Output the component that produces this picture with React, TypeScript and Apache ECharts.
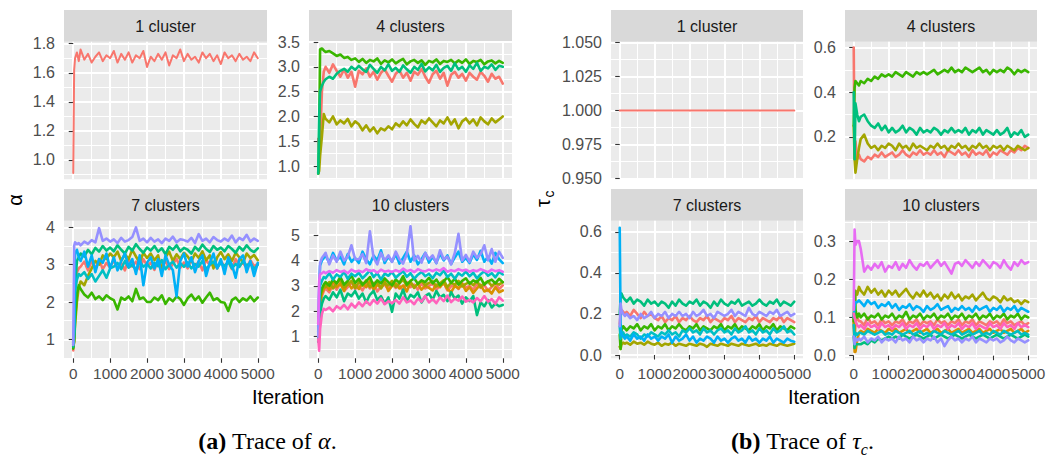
import React, { useEffect, useRef } from "react";
import * as echarts from "echarts";

// ---------- iterations (shared x values) ----------
const ITER = [0, 25, 50, 100, 150,
  200, 300, 400, 500, 600, 700, 800, 900, 1000,
  1100, 1200, 1300, 1400, 1500, 1600, 1700, 1800, 1900, 2000,
  2100, 2200, 2300, 2400, 2500, 2600, 2700, 2800, 2900, 3000,
  3100, 3200, 3300, 3400, 3500, 3600, 3700, 3800, 3900, 4000,
  4100, 4200, 4300, 4400, 4500, 4600, 4700, 4800, 4900, 5000];

// ---------- alpha traces ----------
const ALPHA_1C_C1 = [0.91, 1.62, 1.70, 1.74, 1.68,
  1.76, 1.69, 1.73, 1.67, 1.71, 1.74, 1.68, 1.72, 1.70,
  1.75, 1.67, 1.73, 1.69, 1.74, 1.67, 1.72, 1.70, 1.75, 1.64,
  1.71, 1.68, 1.73, 1.69, 1.74, 1.65, 1.72, 1.70, 1.76, 1.68,
  1.73, 1.69, 1.71, 1.67, 1.74, 1.70, 1.73, 1.68, 1.72, 1.66,
  1.74, 1.70, 1.72, 1.68, 1.73, 1.69, 1.71, 1.68, 1.74, 1.70];

const ALPHA_4C_C1 = [1.55, 1.30, 1.50, 2.50, 2.90,
  3.00, 2.88, 3.05, 2.92, 2.80, 2.95, 2.78, 2.90, 2.60,
  2.92, 2.85, 2.97, 2.80, 2.90, 2.74, 2.88, 2.95, 2.82, 2.70,
  2.86, 2.93, 2.78, 2.88, 2.72, 2.90, 2.84, 2.96, 2.80, 2.68,
  2.85, 2.92, 2.76, 2.88, 2.62, 2.84, 2.90, 2.78, 2.86, 2.72,
  2.88, 2.80, 2.74, 2.90, 2.82, 2.70, 2.86, 2.76, 2.80, 2.66];
const ALPHA_4C_C2 = [0.85, 0.90, 1.20, 1.60, 2.05,
  1.95, 1.88, 2.00, 1.84, 1.92, 1.86, 1.95, 1.80, 1.90,
  1.84, 1.72, 1.82, 1.70, 1.78, 1.66, 1.76, 1.72, 1.80, 1.74,
  1.86, 1.80, 1.90, 1.82, 1.94, 1.85, 1.78, 1.92, 1.86, 1.96,
  1.88, 1.80, 1.92, 1.86, 1.98, 1.84, 1.94, 1.76, 1.90, 1.96,
  1.86, 1.94, 1.82, 1.98, 1.90, 1.84, 1.96, 1.88, 1.94, 2.00];
const ALPHA_4C_C3 = [0.85, 1.50, 3.35, 3.37, 3.33,
  3.30, 3.32, 3.27, 3.22, 3.25, 3.18, 3.20, 3.14, 3.17,
  3.10, 3.16, 3.08, 3.14, 3.11, 3.17, 3.06, 3.13, 3.09, 3.15,
  3.07, 3.12, 3.16, 3.05, 3.11, 3.14, 3.08, 3.13, 3.04, 3.12,
  3.09, 3.15, 3.06, 3.12, 3.10, 3.14, 3.07, 3.13, 3.08, 3.15,
  3.06, 3.12, 3.10, 3.14, 3.05, 3.11, 3.13, 3.07, 3.12, 3.08];
const ALPHA_4C_C4 = [0.85, 2.00, 2.50, 2.62, 2.70,
  2.75, 2.80, 2.76, 2.86, 2.92, 2.96, 2.90, 3.00, 2.94,
  3.02, 2.95, 2.90, 3.04, 2.96, 2.88, 3.00, 2.93, 3.05, 2.92,
  2.98, 2.90, 3.03, 2.95, 2.88, 3.00, 2.94, 3.06, 2.91, 2.99,
  2.93, 3.04, 2.90, 2.98, 3.02, 2.92, 3.07, 2.95, 3.00, 2.90,
  3.03, 2.96, 3.08, 2.92, 3.00, 2.97, 3.05, 2.94, 3.02, 3.00];

const ALPHA_7C_C1 = [0.70, 1.00, 2.20, 2.80, 2.90,
  2.95, 3.08, 2.85, 3.10, 2.90, 3.15, 2.88, 3.05, 2.92,
  3.12, 2.90, 3.05, 2.85, 3.18, 2.95, 3.08, 2.88, 3.15, 2.98,
  3.05, 2.86, 3.14, 2.95, 3.10, 2.88, 3.02, 3.16, 2.92, 3.06,
  2.90, 3.12, 2.96, 3.08, 2.85, 3.14, 2.98, 3.05, 2.90, 3.10,
  2.95, 3.08, 2.88, 3.15, 2.98, 3.04, 2.92, 3.12, 2.96, 3.02];
const ALPHA_7C_C2 = [0.80, 0.95, 1.40, 2.00, 2.40,
  2.55, 2.45, 2.70, 2.90, 3.10, 3.00, 3.25, 3.15, 3.30,
  3.20, 3.35, 3.10, 3.28, 3.15, 3.40, 3.22, 3.05, 3.32, 3.18,
  3.30, 3.12, 3.25, 2.85, 3.20, 3.35, 3.10, 3.28, 3.15, 3.32,
  3.22, 3.08, 3.30, 3.18, 3.36, 3.12, 3.25, 2.90, 3.20, 3.34,
  3.15, 3.28, 3.10, 3.32, 3.20, 3.05, 3.30, 3.18, 3.26, 3.12];
const ALPHA_7C_C3 = [0.75, 0.95, 1.50, 2.20, 2.45,
  2.35, 2.20, 2.12, 2.25, 2.08, 2.15, 2.05, 2.18, 2.10,
  2.05, 1.80, 2.12, 2.06, 2.15, 2.02, 2.35, 2.08, 2.12, 2.00,
  2.00, 2.12, 2.05, 2.18, 1.95, 2.10, 2.02, 2.15, 2.08, 1.92,
  2.10, 2.20, 2.05, 2.15, 1.98, 2.12, 2.25, 2.05, 2.10, 2.00,
  1.98, 1.76, 2.05, 2.12, 2.00, 2.10, 2.04, 2.15, 2.02, 2.12];
const ALPHA_7C_C4 = [0.80, 1.10, 2.40, 3.10, 3.20,
  3.30, 3.22, 3.40, 3.28, 3.45, 3.35, 3.50, 3.38, 3.46,
  3.36, 3.52, 3.40, 3.30, 3.48, 3.38, 3.55, 3.42, 3.32, 3.46,
  3.38, 3.50, 3.35, 3.44, 3.28, 3.48, 3.40, 3.52, 3.36, 3.45,
  3.40, 3.30, 3.48, 3.38, 3.54, 3.42, 3.34, 3.50, 3.40, 3.46,
  3.36, 3.50, 3.42, 3.32, 3.48, 3.38, 3.52, 3.40, 3.34, 3.44];
const ALPHA_7C_C5 = [0.85, 1.20, 2.30, 2.60, 2.75,
  2.70, 2.80, 2.62, 2.75, 2.55, 2.70, 2.85, 2.65, 2.90,
  2.95, 3.05, 2.88, 3.10, 2.92, 3.00, 2.85, 3.08, 2.95, 3.02,
  2.90, 3.05, 2.96, 3.12, 2.88, 3.00, 3.08, 2.92, 3.04, 2.94,
  3.06, 2.90, 3.02, 2.95, 3.10, 2.88, 3.00, 3.08, 2.92, 3.05,
  2.96, 3.08, 2.90, 3.02, 2.94, 3.10, 2.98, 3.04, 2.88, 3.00];
const ALPHA_7C_C6 = [0.90, 1.40, 3.30, 3.40, 3.20,
  3.10, 3.35, 2.95, 3.25, 2.80, 3.15, 3.05, 3.30, 2.90,
  3.20, 2.85, 3.10, 3.30, 2.95, 3.15, 2.75, 3.25, 2.45, 3.05,
  3.20, 2.90, 3.15, 2.70, 3.25, 3.00, 2.85, 2.15, 3.10, 3.30,
  2.95, 3.20, 2.80, 3.10, 3.25, 2.70, 3.05, 3.30, 2.90, 3.15,
  2.75, 3.20, 3.00, 2.65, 3.15, 3.25, 2.80, 3.10, 2.70, 3.05];
const ALPHA_7C_C7 = [0.85, 3.50, 3.60, 3.55, 3.58,
  3.52, 3.62, 3.56, 3.66, 3.60, 3.98, 3.64, 3.70, 3.62,
  3.68, 3.58, 3.72, 3.62, 3.66, 3.74, 4.00, 3.64, 3.70, 3.60,
  3.72, 3.62, 3.68, 3.58, 3.70, 3.64, 3.75, 3.60, 3.68, 3.66,
  3.62, 3.72, 3.58, 3.82, 3.64, 3.70, 3.60, 3.74, 3.66, 3.62,
  3.70, 3.64, 3.78, 3.60, 3.72, 3.66, 3.80, 3.62, 3.70, 3.64];

const ALPHA_10C_C1 = [1.80, 1.20, 2.20, 2.60, 2.80,
  2.90, 2.75, 3.05, 2.85, 3.10, 2.80, 2.95, 3.15, 2.88,
  3.00, 2.82, 3.08, 2.90, 3.12, 2.78, 2.98, 3.05, 2.86, 3.10,
  2.92, 3.02, 2.80, 3.15, 2.95, 3.05, 2.85, 3.10, 2.90, 3.00,
  3.08, 2.86, 3.00, 3.12, 2.82, 2.98, 3.06, 2.88, 3.10, 2.94,
  3.00, 2.84, 3.08, 2.92, 3.04, 2.80, 2.96, 3.10, 2.88, 3.02];
const ALPHA_10C_C10 = [2.00, 1.50, 2.40, 2.70, 2.90,
  3.05, 2.85, 3.20, 2.95, 3.10, 2.80, 3.15, 2.90, 3.05,
  2.88, 3.12, 2.95, 3.20, 2.85, 3.05, 2.92, 3.18, 2.80, 3.00,
  3.10, 2.90, 3.02, 2.78, 3.15, 2.95, 3.08, 2.85, 3.00, 2.92,
  2.82, 3.05, 2.95, 3.12, 2.88, 2.75, 3.00, 2.90, 3.08, 2.80,
  2.95, 2.72, 2.90, 3.05, 2.78, 2.85, 2.70, 2.95, 2.75, 2.82];
const ALPHA_10C_C2 = [1.50, 1.80, 2.50, 2.80, 3.00,
  2.95, 3.15, 2.90, 3.10, 3.25, 2.95, 3.05, 3.20, 2.92,
  3.15, 3.00, 3.22, 2.95, 3.08, 3.18, 2.90, 3.12, 3.02, 3.20,
  2.96, 3.10, 3.25, 3.00, 3.15, 2.92, 3.08, 3.20, 3.02, 3.12,
  3.18, 2.98, 3.10, 3.22, 2.95, 3.12, 3.05, 3.20, 2.98, 3.08,
  3.15, 3.02, 3.20, 2.95, 3.10, 3.18, 3.00, 3.12, 3.05, 3.15];
const ALPHA_10C_C3 = [1.00, 1.60, 2.60, 2.90, 3.05,
  3.15, 3.00, 3.25, 3.10, 3.35, 3.05, 3.20, 3.40, 3.12,
  3.28, 3.05, 3.18, 3.35, 3.00, 3.22, 3.10, 3.30, 3.15, 3.02,
  3.25, 3.12, 3.38, 3.05, 3.20, 3.30, 3.08, 3.22, 3.15, 3.32,
  3.10, 3.25, 3.02, 3.18, 3.35, 3.12, 3.28, 3.05, 3.20, 3.30,
  3.08, 3.22, 3.15, 3.32, 3.05, 3.18, 3.25, 3.10, 3.28, 3.15];
const ALPHA_10C_C4 = [0.80, 1.20, 1.90, 2.30, 2.50,
  2.60, 2.45, 2.75, 2.55, 2.85, 2.40, 2.70, 2.60, 2.80,
  2.50, 2.70, 2.35, 2.65, 2.80, 2.45, 2.60, 2.30, 2.55, 1.98,
  2.70, 2.50, 2.85, 2.40, 2.65, 2.55, 2.75, 2.35, 2.60, 2.70,
  2.45, 2.80, 2.55, 2.65, 2.40, 2.75, 2.50, 2.62, 2.30, 2.55,
  2.40, 2.60, 1.85, 2.35, 2.20, 2.45, 2.15, 2.30, 2.20, 2.25];
const ALPHA_10C_C5 = [1.20, 2.00, 3.00, 3.20, 3.35,
  3.30, 3.50, 3.25, 3.45, 3.35, 3.55, 3.28, 3.48, 3.38,
  3.52, 3.30, 3.45, 3.60, 3.35, 3.50, 3.25, 3.48, 3.40, 3.55,
  3.32, 3.46, 3.58, 3.36, 3.50, 3.28, 3.44, 3.55, 3.38, 3.48,
  3.30, 3.52, 3.42, 3.60, 3.35, 3.48, 3.28, 3.50, 3.40, 3.56,
  3.38, 3.52, 3.30, 3.46, 3.58, 3.40, 3.50, 3.34, 3.55, 3.45];
const ALPHA_10C_C6 = [1.40, 2.80, 3.80, 4.00, 4.10,
  4.20, 3.90, 4.30, 4.00, 4.15, 3.85, 4.25, 3.95, 4.10,
  3.90, 4.35, 4.05, 3.85, 4.20, 4.00, 4.40, 3.90, 4.15, 3.95,
  4.25, 3.88, 4.10, 4.35, 3.95, 4.20, 3.85, 4.05, 4.30, 3.92,
  4.15, 3.90, 4.28, 4.00, 4.20, 3.86, 4.12, 4.35, 3.95, 4.10,
  3.90, 4.25, 4.02, 4.38, 3.95, 4.15, 3.88, 4.30, 4.05, 3.90];
const ALPHA_10C_C7 = [1.00, 3.00, 3.90, 4.10, 4.20,
  4.30, 3.85, 4.20, 3.95, 4.35, 4.00, 4.15, 4.60, 4.05,
  4.05, 4.25, 3.90, 5.15, 4.10, 3.85, 4.30, 4.00, 4.20, 3.95,
  4.35, 4.05, 3.88, 4.25, 5.35, 4.00, 4.18, 3.92, 4.30, 4.05,
  4.20, 3.90, 4.40, 4.05, 4.15, 3.85, 4.30, 5.05, 4.00, 4.22,
  3.95, 4.35, 4.10, 4.25, 4.60, 4.00, 4.45, 3.95, 4.35, 4.10];
const ALPHA_10C_C8 = [1.50, 3.20, 3.45, 3.50, 3.55,
  3.50, 3.58, 3.52, 3.62, 3.55, 3.60, 3.50, 3.64, 3.56,
  3.60, 3.54, 3.66, 3.58, 3.62, 3.52, 3.64, 3.56, 3.60, 3.55,
  3.62, 3.56, 3.68, 3.58, 3.63, 3.54, 3.66, 3.60, 3.57, 3.64,
  3.58, 3.65, 3.60, 3.70, 3.56, 3.62, 3.58, 3.66, 3.60, 3.64,
  3.56, 3.62, 3.58, 3.66, 3.60, 3.54, 3.64, 3.58, 3.62, 3.56];
const ALPHA_10C_C9 = [0.90, 0.45, 1.30, 1.90, 2.10,
  2.05, 2.15, 2.00, 2.20, 2.10, 2.25, 2.08, 2.30, 2.15,
  2.35, 2.20, 2.40, 2.25, 2.45, 2.30, 2.50, 2.28, 2.40, 2.32,
  2.45, 2.30, 2.55, 2.35, 2.42, 2.28, 2.50, 2.38, 2.60, 2.35,
  2.48, 2.32, 2.55, 2.40, 2.62, 2.36, 2.50, 2.42, 2.58, 2.38,
  2.45, 2.35, 2.52, 2.40, 2.60, 2.38, 2.48, 2.30, 2.55, 2.42];

// ---------- tau_c traces ----------
const TAU_1C_ITER = [0, 5000];
const TAU_1C_C1 = [1.0, 1.0];

const TAU_4C_C1 = [0.60, 0.10, 0.18, 0.10, 0.12,
  0.10, 0.09, 0.11, 0.10, 0.12, 0.11, 0.13, 0.11, 0.12,
  0.13, 0.11, 0.12, 0.14, 0.12, 0.11, 0.13, 0.12, 0.14, 0.12,
  0.13, 0.12, 0.14, 0.12, 0.13, 0.11, 0.14, 0.13, 0.12, 0.14,
  0.12, 0.13, 0.11, 0.14, 0.12, 0.13, 0.12, 0.14, 0.11, 0.13,
  0.12, 0.14, 0.13, 0.12, 0.14, 0.13, 0.15, 0.14, 0.16, 0.15];
const TAU_4C_C2 = [0.25, 0.10, 0.04, 0.10, 0.15,
  0.19, 0.21, 0.17, 0.15, 0.16, 0.14, 0.16, 0.15, 0.17,
  0.16, 0.14, 0.17, 0.15, 0.16, 0.14, 0.17, 0.15, 0.16, 0.15,
  0.14, 0.16, 0.15, 0.17, 0.15, 0.16, 0.14, 0.16, 0.15, 0.17,
  0.15, 0.16, 0.14, 0.16, 0.15, 0.17, 0.15, 0.16, 0.14, 0.16,
  0.15, 0.16, 0.14, 0.16, 0.15, 0.14, 0.16, 0.15, 0.14, 0.15];
const TAU_4C_C3 = [0.25, 0.42, 0.45, 0.44, 0.43,
  0.45, 0.44, 0.46, 0.45, 0.47, 0.46, 0.48, 0.47, 0.48,
  0.47, 0.49, 0.48, 0.47, 0.49, 0.48, 0.47, 0.49, 0.48, 0.49,
  0.48, 0.49, 0.50, 0.48, 0.49, 0.50, 0.49, 0.51, 0.49, 0.50,
  0.49, 0.51, 0.50, 0.49, 0.50, 0.51, 0.49, 0.50, 0.48, 0.50,
  0.49, 0.50, 0.49, 0.51, 0.50, 0.48, 0.50, 0.49, 0.50, 0.49];
const TAU_4C_C4 = [0.40, 0.10, 0.35, 0.30, 0.27,
  0.29, 0.30, 0.27, 0.25, 0.24, 0.26, 0.23, 0.25, 0.22,
  0.24, 0.22, 0.23, 0.25, 0.22, 0.24, 0.23, 0.21, 0.24, 0.22,
  0.23, 0.22, 0.24, 0.23, 0.21, 0.23, 0.22, 0.24, 0.22, 0.23,
  0.22, 0.24, 0.21, 0.23, 0.22, 0.24, 0.21, 0.23, 0.22, 0.21,
  0.23, 0.21, 0.22, 0.24, 0.20, 0.22, 0.21, 0.23, 0.20, 0.21];

const TAU_7C_C1 = [0.15, 0.20, 0.22, 0.21, 0.20,
  0.21, 0.19, 0.22, 0.20, 0.18, 0.21, 0.19, 0.20, 0.18,
  0.17, 0.19, 0.16, 0.18, 0.17, 0.19, 0.16, 0.18, 0.17, 0.19,
  0.17, 0.16, 0.18, 0.17, 0.19, 0.16, 0.18, 0.17, 0.16, 0.18,
  0.17, 0.19, 0.16, 0.18, 0.17, 0.16, 0.18, 0.17, 0.19, 0.16,
  0.18, 0.17, 0.16, 0.18, 0.17, 0.19, 0.16, 0.18, 0.17, 0.16];
const TAU_7C_C2 = [0.04, 0.03, 0.05, 0.06, 0.055,
  0.06, 0.05, 0.065, 0.055, 0.06, 0.05, 0.065, 0.055, 0.05,
  0.06, 0.045, 0.055, 0.05, 0.06, 0.045, 0.055, 0.05, 0.045, 0.055,
  0.05, 0.045, 0.055, 0.05, 0.04, 0.055, 0.05, 0.045, 0.055, 0.05,
  0.045, 0.055, 0.05, 0.045, 0.055, 0.05, 0.045, 0.05, 0.055, 0.045,
  0.05, 0.045, 0.055, 0.05, 0.045, 0.055, 0.05, 0.045, 0.05, 0.055];
const TAU_7C_C3 = [0.10, 0.03, 0.12, 0.14, 0.13,
  0.12, 0.14, 0.13, 0.15, 0.12, 0.14, 0.13, 0.15, 0.12,
  0.14, 0.13, 0.15, 0.12, 0.14, 0.13, 0.15, 0.13, 0.12, 0.14,
  0.13, 0.15, 0.12, 0.14, 0.13, 0.12, 0.14, 0.13, 0.15, 0.12,
  0.14, 0.13, 0.15, 0.12, 0.14, 0.13, 0.12, 0.14, 0.13, 0.15,
  0.12, 0.14, 0.13, 0.15, 0.12, 0.14, 0.13, 0.12, 0.14, 0.13];
const TAU_7C_C4 = [0.20, 0.28, 0.30, 0.28, 0.27,
  0.26, 0.28, 0.25, 0.27, 0.26, 0.24, 0.27, 0.25, 0.26,
  0.24, 0.26, 0.25, 0.23, 0.26, 0.24, 0.27, 0.25, 0.24, 0.26,
  0.25, 0.27, 0.24, 0.26, 0.25, 0.23, 0.26, 0.24, 0.27, 0.25,
  0.24, 0.26, 0.25, 0.27, 0.24, 0.25, 0.26, 0.24, 0.25, 0.27,
  0.25, 0.24, 0.26, 0.25, 0.27, 0.24, 0.26, 0.25, 0.24, 0.26];
const TAU_7C_C5 = [0.14, 0.08, 0.10, 0.11, 0.09,
  0.10, 0.09, 0.11, 0.10, 0.08, 0.10, 0.09, 0.11, 0.10,
  0.09, 0.11, 0.10, 0.12, 0.10, 0.11, 0.09, 0.12, 0.11, 0.13,
  0.11, 0.12, 0.10, 0.13, 0.11, 0.12, 0.10, 0.12, 0.13, 0.11,
  0.12, 0.10, 0.13, 0.11, 0.12, 0.14, 0.11, 0.12, 0.10, 0.13,
  0.11, 0.12, 0.10, 0.13, 0.11, 0.12, 0.14, 0.11, 0.12, 0.10];
const TAU_7C_C6 = [0.62, 0.15, 0.10, 0.09, 0.08,
  0.09, 0.07, 0.10, 0.08, 0.09, 0.07, 0.10, 0.08, 0.09,
  0.07, 0.09, 0.08, 0.10, 0.06, 0.09, 0.07, 0.08, 0.10, 0.07,
  0.09, 0.06, 0.08, 0.07, 0.09, 0.08, 0.06, 0.09, 0.07, 0.08,
  0.06, 0.08, 0.09, 0.07, 0.08, 0.06, 0.09, 0.07, 0.08, 0.06,
  0.08, 0.07, 0.09, 0.06, 0.08, 0.07, 0.06, 0.08, 0.07, 0.065];
const TAU_7C_C7 = [0.14, 0.25, 0.22, 0.20, 0.19,
  0.20, 0.18, 0.19, 0.17, 0.20, 0.18, 0.19, 0.21, 0.18,
  0.20, 0.19, 0.21, 0.18, 0.20, 0.19, 0.21, 0.19, 0.20, 0.18,
  0.21, 0.19, 0.20, 0.22, 0.19, 0.20, 0.18, 0.21, 0.20, 0.19,
  0.20, 0.22, 0.19, 0.21, 0.20, 0.19, 0.23, 0.20, 0.19, 0.21,
  0.20, 0.19, 0.21, 0.20, 0.22, 0.19, 0.20, 0.21, 0.19, 0.20];

const TAU_10C_C1 = [0.11, 0.02, 0.09, 0.10, 0.09,
  0.09, 0.08, 0.10, 0.085, 0.09, 0.08, 0.095, 0.085, 0.09,
  0.08, 0.09, 0.085, 0.095, 0.08, 0.09, 0.085, 0.095, 0.08, 0.09,
  0.085, 0.09, 0.08, 0.095, 0.085, 0.09, 0.08, 0.09, 0.085, 0.095,
  0.08, 0.09, 0.085, 0.095, 0.08, 0.09, 0.085, 0.08, 0.09, 0.085,
  0.09, 0.08, 0.095, 0.085, 0.09, 0.08, 0.085, 0.09, 0.08, 0.085];
const TAU_10C_C10 = [0.10, 0.01, 0.01, 0.04, 0.06,
  0.065, 0.06, 0.07, 0.065, 0.06, 0.07, 0.065, 0.06, 0.07,
  0.065, 0.07, 0.06, 0.065, 0.07, 0.06, 0.065, 0.07, 0.06, 0.065,
  0.07, 0.06, 0.065, 0.07, 0.06, 0.065, 0.07, 0.06, 0.065, 0.07,
  0.06, 0.065, 0.07, 0.06, 0.065, 0.07, 0.06, 0.065, 0.07, 0.06,
  0.065, 0.07, 0.06, 0.065, 0.07, 0.06, 0.065, 0.07, 0.06, 0.065];
const TAU_10C_C2 = [0.10, 0.05, 0.17, 0.16, 0.18,
  0.17, 0.16, 0.18, 0.165, 0.175, 0.16, 0.17, 0.155, 0.17,
  0.16, 0.17, 0.155, 0.165, 0.175, 0.16, 0.15, 0.165, 0.155, 0.17,
  0.155, 0.165, 0.15, 0.16, 0.145, 0.16, 0.15, 0.165, 0.15, 0.16,
  0.145, 0.155, 0.15, 0.16, 0.145, 0.155, 0.165, 0.15, 0.145, 0.155,
  0.15, 0.14, 0.155, 0.145, 0.15, 0.14, 0.145, 0.135, 0.145, 0.14];
const TAU_10C_C3 = [0.09, 0.17, 0.12, 0.10, 0.11,
  0.10, 0.11, 0.095, 0.105, 0.10, 0.11, 0.095, 0.105, 0.10,
  0.11, 0.095, 0.105, 0.10, 0.115, 0.095, 0.105, 0.10, 0.11, 0.095,
  0.105, 0.10, 0.11, 0.095, 0.105, 0.10, 0.11, 0.095, 0.105, 0.10,
  0.11, 0.095, 0.105, 0.10, 0.11, 0.095, 0.105, 0.10, 0.11, 0.095,
  0.105, 0.10, 0.11, 0.095, 0.105, 0.10, 0.11, 0.095, 0.105, 0.10];
const TAU_10C_C4 = [0.05, 0.02, 0.03, 0.03, 0.03,
  0.03, 0.035, 0.03, 0.04, 0.035, 0.045, 0.04, 0.045, 0.05,
  0.045, 0.05, 0.045, 0.055, 0.05, 0.045, 0.05, 0.055, 0.05, 0.045,
  0.05, 0.055, 0.045, 0.05, 0.055, 0.05, 0.045, 0.05, 0.055, 0.05,
  0.045, 0.05, 0.055, 0.05, 0.045, 0.05, 0.055, 0.05, 0.045, 0.05,
  0.055, 0.05, 0.045, 0.05, 0.055, 0.05, 0.045, 0.05, 0.055, 0.05];
const TAU_10C_C5 = [0.08, 0.04, 0.06, 0.055, 0.06,
  0.06, 0.055, 0.065, 0.06, 0.055, 0.06, 0.065, 0.055, 0.06,
  0.055, 0.065, 0.06, 0.055, 0.06, 0.065, 0.055, 0.06, 0.065, 0.055,
  0.06, 0.055, 0.065, 0.06, 0.055, 0.065, 0.06, 0.055, 0.06, 0.065,
  0.055, 0.06, 0.065, 0.055, 0.06, 0.065, 0.055, 0.06, 0.055, 0.065,
  0.06, 0.055, 0.065, 0.06, 0.055, 0.06, 0.065, 0.055, 0.06, 0.055];
const TAU_10C_C6 = [0.10, 0.13, 0.14, 0.14, 0.145,
  0.14, 0.13, 0.145, 0.135, 0.14, 0.125, 0.135, 0.13, 0.14,
  0.125, 0.135, 0.12, 0.13, 0.125, 0.135, 0.12, 0.13, 0.125, 0.115,
  0.13, 0.12, 0.125, 0.135, 0.12, 0.125, 0.13, 0.115, 0.125, 0.12,
  0.13, 0.12, 0.125, 0.115, 0.13, 0.12, 0.125, 0.13, 0.115, 0.125,
  0.12, 0.13, 0.115, 0.125, 0.12, 0.13, 0.115, 0.125, 0.12, 0.115];
const TAU_10C_C7 = [0.05, 0.03, 0.045, 0.04, 0.045,
  0.04, 0.05, 0.035, 0.045, 0.04, 0.05, 0.035, 0.045, 0.04,
  0.045, 0.035, 0.05, 0.04, 0.045, 0.035, 0.05, 0.04, 0.045, 0.035,
  0.045, 0.04, 0.05, 0.035, 0.045, 0.025, 0.04, 0.05, 0.04, 0.045,
  0.035, 0.045, 0.04, 0.05, 0.035, 0.045, 0.04, 0.035, 0.045, 0.04,
  0.045, 0.035, 0.04, 0.05, 0.04, 0.035, 0.045, 0.04, 0.035, 0.04];
const TAU_10C_C8 = [0.12, 0.33, 0.29, 0.30, 0.30,
  0.28, 0.22, 0.235, 0.225, 0.24, 0.23, 0.245, 0.22, 0.235,
  0.23, 0.245, 0.225, 0.24, 0.23, 0.25, 0.235, 0.225, 0.24, 0.235,
  0.245, 0.23, 0.24, 0.25, 0.235, 0.245, 0.23, 0.215, 0.24, 0.245,
  0.235, 0.25, 0.24, 0.23, 0.245, 0.235, 0.25, 0.24, 0.23, 0.245,
  0.24, 0.23, 0.25, 0.235, 0.225, 0.245, 0.235, 0.25, 0.24, 0.245];
const TAU_10C_C9 = [0.11, 0.10, 0.09, 0.08, 0.075,
  0.08, 0.07, 0.085, 0.075, 0.08, 0.07, 0.085, 0.075, 0.08,
  0.07, 0.08, 0.075, 0.085, 0.07, 0.08, 0.075, 0.085, 0.07, 0.08,
  0.075, 0.085, 0.07, 0.08, 0.075, 0.085, 0.07, 0.08, 0.075, 0.085,
  0.07, 0.08, 0.075, 0.085, 0.07, 0.08, 0.075, 0.07, 0.085, 0.075,
  0.08, 0.07, 0.085, 0.075, 0.08, 0.07, 0.085, 0.075, 0.08, 0.075];

// ---------- tick values ----------
const X_MAJOR = [0, 1000, 2000, 3000, 4000, 5000];
const X_MINOR = [500, 1500, 2500, 3500, 4500];
const A1_MAJOR = [1.0, 1.2, 1.4, 1.6, 1.8];
const A1_MINOR = [0.9, 1.1, 1.3, 1.5, 1.7];
const A4_MAJOR = [1.0, 1.5, 2.0, 2.5, 3.0, 3.5];
const A4_MINOR = [0.75, 1.25, 1.75, 2.25, 2.75, 3.25];
const A7_MAJOR = [1, 2, 3, 4];
const A7_MINOR = [0.5, 1.5, 2.5, 3.5];
const A10_MAJOR = [1, 2, 3, 4, 5];
const A10_MINOR = [0.5, 1.5, 2.5, 3.5, 4.5, 5.5];
const T1_MAJOR = [0.95, 0.975, 1.0, 1.025, 1.05];
const T1_MINOR = [0.9625, 0.9875, 1.0125, 1.0375];
const T4_MAJOR = [0.2, 0.4, 0.6];
const T4_MINOR = [0.1, 0.3, 0.5];
const T7_MAJOR = [0.0, 0.2, 0.4, 0.6];
const T7_MINOR = [0.1, 0.3, 0.5];
const T10_MAJOR = [0.0, 0.1, 0.2, 0.3];
const T10_MINOR = [0.05, 0.15, 0.25, 0.35];

// ggplot hue palette, levels ordered "1","10","2",...,"9"
const HUE = {
  c1: "#F8766D", c10: "#D89000", c2: "#A3A500", c3: "#39B600", c4: "#00BF7D",
  c5: "#00BFC4", c6: "#00B0F6", c7: "#9590FF", c8: "#E76BF3", c9: "#FF62BC",
};

const SANS = "'Liberation Sans', Arial, Helvetica, sans-serif";
const SERIF = "'Liberation Serif', 'Times New Roman', serif";

const TOP_Y = 41.8;
const BOT_Y = 220.8;
const PH = 137.5;
const STRIP_H = 31.8;

type Trace = { c: string; y: number[]; x?: number[]; w?: number };
type Panel = {
  title: string; x: number; y: number; w: number; h: number;
  yMin: number; yMax: number; major: number[]; minor: number[]; dec: number;
  bottom: boolean; traces: Trace[];
};

const PANELS: Panel[] = [
  { title: "1 cluster", x: 64, y: TOP_Y, w: 203, h: PH, yMin: 0.867, yMax: 1.813, major: A1_MAJOR, minor: A1_MINOR, dec: 1, bottom: false,
    traces: [{ c: HUE.c1, y: ALPHA_1C_C1, w: 2 }] },
  { title: "4 clusters", x: 309, y: TOP_Y, w: 203, h: PH, yMin: 0.732, yMax: 3.505, major: A4_MAJOR, minor: A4_MINOR, dec: 1, bottom: false,
    traces: [{ c: HUE.c1, y: ALPHA_4C_C1 }, { c: HUE.c2, y: ALPHA_4C_C2 }, { c: HUE.c3, y: ALPHA_4C_C3 }, { c: HUE.c4, y: ALPHA_4C_C4 }] },
  { title: "7 clusters", x: 64, y: BOT_Y, w: 203, h: PH, yMin: 0.491, yMax: 4.177, major: A7_MAJOR, minor: A7_MINOR, dec: 0, bottom: true,
    traces: [{ c: HUE.c1, y: ALPHA_7C_C1 }, { c: HUE.c2, y: ALPHA_7C_C2 }, { c: HUE.c3, y: ALPHA_7C_C3 }, { c: HUE.c4, y: ALPHA_7C_C4 },
      { c: HUE.c5, y: ALPHA_7C_C5 }, { c: HUE.c6, y: ALPHA_7C_C6 }, { c: HUE.c7, y: ALPHA_7C_C7 }] },
  { title: "10 clusters", x: 309, y: BOT_Y, w: 203, h: PH, yMin: 0.15, yMax: 5.563, major: A10_MAJOR, minor: A10_MINOR, dec: 0, bottom: true,
    traces: [{ c: HUE.c1, y: ALPHA_10C_C1 }, { c: HUE.c10, y: ALPHA_10C_C10 }, { c: HUE.c2, y: ALPHA_10C_C2 }, { c: HUE.c3, y: ALPHA_10C_C3 },
      { c: HUE.c4, y: ALPHA_10C_C4 }, { c: HUE.c5, y: ALPHA_10C_C5 }, { c: HUE.c6, y: ALPHA_10C_C6 }, { c: HUE.c7, y: ALPHA_10C_C7 },
      { c: HUE.c8, y: ALPHA_10C_C8 }, { c: HUE.c9, y: ALPHA_10C_C9 }] },
  { title: "1 cluster", x: 611, y: TOP_Y, w: 192, h: PH, yMin: 0.9495, yMax: 1.0505, major: T1_MAJOR, minor: T1_MINOR, dec: 3, bottom: false,
    traces: [{ c: HUE.c1, y: TAU_1C_C1, x: TAU_1C_ITER, w: 2 }] },
  { title: "4 clusters", x: 845, y: TOP_Y, w: 192, h: PH, yMin: 0.0099, yMax: 0.6256, major: T4_MAJOR, minor: T4_MINOR, dec: 1, bottom: false,
    traces: [{ c: HUE.c1, y: TAU_4C_C1 }, { c: HUE.c2, y: TAU_4C_C2 }, { c: HUE.c3, y: TAU_4C_C3 }, { c: HUE.c4, y: TAU_4C_C4 }] },
  { title: "7 clusters", x: 611, y: BOT_Y, w: 192, h: PH, yMin: -0.016, yMax: 0.6535, major: T7_MAJOR, minor: T7_MINOR, dec: 1, bottom: true,
    traces: [{ c: HUE.c1, y: TAU_7C_C1 }, { c: HUE.c2, y: TAU_7C_C2 }, { c: HUE.c3, y: TAU_7C_C3 }, { c: HUE.c4, y: TAU_7C_C4 },
      { c: HUE.c5, y: TAU_7C_C5 }, { c: HUE.c6, y: TAU_7C_C6 }, { c: HUE.c7, y: TAU_7C_C7 }] },
  { title: "10 clusters", x: 845, y: BOT_Y, w: 192, h: PH, yMin: -0.0068, yMax: 0.353, major: T10_MAJOR, minor: T10_MINOR, dec: 1, bottom: true,
    traces: [{ c: HUE.c1, y: TAU_10C_C1 }, { c: HUE.c10, y: TAU_10C_C10 }, { c: HUE.c2, y: TAU_10C_C2 }, { c: HUE.c3, y: TAU_10C_C3 },
      { c: HUE.c4, y: TAU_10C_C4 }, { c: HUE.c5, y: TAU_10C_C5 }, { c: HUE.c6, y: TAU_10C_C6 }, { c: HUE.c7, y: TAU_10C_C7 },
      { c: HUE.c8, y: TAU_10C_C8 }, { c: HUE.c9, y: TAU_10C_C9 }] },
];

function buildOption() {
  const grids: any[] = [];
  const xAxes: any[] = [];
  const yAxes: any[] = [];
  const series: any[] = [];
  const graphics: any[] = [];

  PANELS.forEach((p, i) => {
    grids.push({
      left: p.x, top: p.y, width: p.w, height: p.h,
      show: true, backgroundColor: "#EBEBEB", borderWidth: 0, borderColor: "transparent",
      containLabel: false, outerBoundsMode: "none",
    });
    // main x axis (major grid, ticks, labels)
    xAxes.push({
      type: "value", gridIndex: i, min: -250, max: 5250, position: "bottom",
      axisLine: { show: false },
      axisTick: { show: p.bottom, length: 4.5, customValues: X_MAJOR, lineStyle: { color: "#333333", width: 1.1 } },
      axisLabel: {
        show: p.bottom, customValues: X_MAJOR, color: "#4D4D4D", fontSize: 15.3, fontFamily: SANS, margin: 8,
        formatter: (v: number) => String(v), hideOverlap: false,
      },
      splitLine: { show: true, lineStyle: { color: "#FFFFFF", width: 2 } },
    });
    // minor x axis (minor grid only)
    xAxes.push({
      type: "value", gridIndex: i, min: -250, max: 5250, position: "top",
      axisLine: { show: false },
      axisTick: { show: false, customValues: X_MINOR },
      axisLabel: { show: false, customValues: X_MINOR },
      splitLine: { show: true, lineStyle: { color: "#FFFFFF", width: 1 } },
    });
    yAxes.push({
      type: "value", gridIndex: i, min: p.yMin, max: p.yMax, position: "left",
      axisLine: { show: false },
      axisTick: { show: true, length: 4.5, customValues: p.major, lineStyle: { color: "#333333", width: 1.1 } },
      axisLabel: {
        show: true, customValues: p.major, color: "#4D4D4D", fontSize: 16, fontFamily: SANS, margin: 9,
        formatter: (v: number) => v.toFixed(p.dec), hideOverlap: false,
      },
      splitLine: { show: true, lineStyle: { color: "#FFFFFF", width: 2 } },
    });
    yAxes.push({
      type: "value", gridIndex: i, min: p.yMin, max: p.yMax, position: "right",
      axisLine: { show: false },
      axisTick: { show: false, customValues: p.minor },
      axisLabel: { show: false, customValues: p.minor },
      splitLine: { show: true, lineStyle: { color: "#FFFFFF", width: 1 } },
    });

    p.traces.forEach((t) => {
      const xs = t.x || ITER;
      series.push({
        type: "line", xAxisIndex: 2 * i, yAxisIndex: 2 * i,
        data: xs.map((x, k) => [x, t.y[k]]),
        showSymbol: false, symbol: "none", silent: true, animation: false, clip: true,
        lineStyle: { color: t.c, width: t.w || 2.6, join: "round", cap: "round" },
        itemStyle: { color: t.c },
        z: 3,
      });
    });

    // facet strip
    graphics.push({
      type: "rect", shape: { x: p.x, y: p.y - STRIP_H, width: p.w, height: STRIP_H },
      style: { fill: "#D9D9D9" }, silent: true,
    });
    graphics.push({
      type: "text", x: p.x + p.w / 2, y: p.y - STRIP_H / 2 + 0.5,
      style: { text: p.title, fill: "#1A1A1A", font: `16px ${SANS}`, align: "center", verticalAlign: "middle" },
      silent: true,
    });
  });

  // axis titles
  graphics.push({
    type: "text", x: 288, y: 397,
    style: { text: "Iteration", fill: "#000000", font: `20px ${SANS}`, align: "center", verticalAlign: "middle" },
  });
  graphics.push({
    type: "text", x: 824, y: 397,
    style: { text: "Iteration", fill: "#000000", font: `20px ${SANS}`, align: "center", verticalAlign: "middle" },
  });
  graphics.push({
    type: "text", x: 15, y: 200, rotation: Math.PI / 2,
    style: { text: "α", fill: "#000000", font: `20px ${SANS}`, align: "center", verticalAlign: "middle" },
  });
  graphics.push({
    type: "group", x: 543, y: 200, rotation: Math.PI / 2,
    children: [
      { type: "text", x: -3, y: 0, style: { text: "τ", fill: "#000000", font: `20px ${SANS}`, align: "center", verticalAlign: "middle" } },
      { type: "text", x: 6, y: 6, style: { text: "c", fill: "#000000", font: `14px ${SANS}`, align: "center", verticalAlign: "middle" } },
    ],
  });

  // captions
  const capRich = {
    b: { fontFamily: SERIF, fontWeight: "bold", fontSize: 24, lineHeight: 32, verticalAlign: "middle", fill: "#000" },
    r: { fontFamily: SERIF, fontSize: 24, lineHeight: 32, verticalAlign: "middle", fill: "#000" },
    i: { fontFamily: SERIF, fontStyle: "italic", fontSize: 24, lineHeight: 32, verticalAlign: "middle", fill: "#000" },
    s: { fontFamily: SERIF, fontStyle: "italic", fontSize: 16, lineHeight: 32, verticalAlign: "bottom", fill: "#000" },
  };
  graphics.push({
    type: "text", x: 267.5, y: 441,
    style: { text: "{b|(a)}{r| Trace of }{i|α}{r|.}", rich: capRich, align: "center", verticalAlign: "middle", fill: "#000" },
  });
  graphics.push({
    type: "text", x: 802.5, y: 441,
    style: { text: "{b|(b)}{r| Trace of }{i|τ}{s|c}{r|.}", rich: capRich, align: "center", verticalAlign: "middle", fill: "#000" },
  });

  return {
    animation: false,
    backgroundColor: "#FFFFFF",
    grid: grids,
    xAxis: xAxes,
    yAxis: yAxes,
    series,
    graphic: { elements: graphics },
  };
}

export default function App() {
  const ref = useRef<HTMLDivElement>(null);
  useEffect(() => {
    if (!ref.current) return;
    const chart = echarts.init(ref.current, null, { renderer: "svg" });
    chart.setOption(buildOption() as any);
    return () => chart.dispose();
  }, []);
  return (
    <div
      ref={ref}
      style={{ position: "fixed", left: 0, top: 0, width: 1048, height: 457, background: "#FFFFFF" }}
    />
  );
}
